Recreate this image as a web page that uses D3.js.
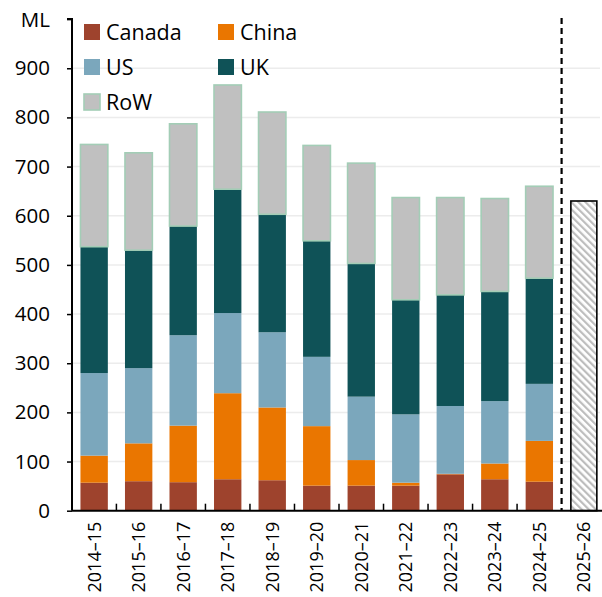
<!DOCTYPE html>
<html><head><meta charset="utf-8">
<script src="https://cdn.jsdelivr.net/npm/d3@7"></script>
<style>body{margin:0;background:#fff}svg{display:block}text{font-family:"Open Sans",sans-serif;fill:#000}</style>
</head><body>
<svg id="c" width="602" height="597"></svg>
<script>
const categories = ["2014–15","2015–16","2016–17","2017–18","2018–19","2019–20","2020–21","2021–22","2022–23","2023–24","2024–25","2025–26"];
const canada = [57,60,58,64,62,51,51,51,74,64,59,null];
const china  = [55,77,115,175,148,121,52,6,1,32,83,null];
const us     = [168,153,184,163,153,141,129,139,138,127,116,null];
const uk     = [257,240,222,252,240,236,271,233,226,223,215,null];
const row    = [208,198,208,212,208,194,204,208,198,189,187,null];
const forecast = [null,null,null,null,null,null,null,null,null,null,null,630];
const yTicks = [0,100,200,300,400,500,600,700,800,900];
const seriesNames = ["Canada","China","US","UK","RoW"];
const colors = {Canada:"#9E432D",China:"#EA7600",US:"#7BA7BC",UK:"#0F5257",RoW:"#C0C0C0"};

const svg = d3.select("#c");
const x0 = 72, x1 = 606, yTop = 19.1, yBot = 510.7;
const x = d3.scaleBand().domain(categories).range([x0,x1]).paddingInner(0.385).paddingOuter(0.19);
const y = d3.scaleLinear().domain([0,1000]).range([yBot,yTop]);

const defs = svg.append("defs");
const pat = defs.append("pattern").attr("id","hatch").attr("patternUnits","userSpaceOnUse")
  .attr("width",5).attr("height",5).attr("patternTransform","rotate(-45)");
pat.append("rect").attr("width",5).attr("height",5).attr("fill","#fff");
pat.append("rect").attr("x",0).attr("width",2.2).attr("height",5).attr("fill","#bdbdbd");

// gridlines
svg.append("g").selectAll("line").data(yTicks.filter(d=>d>0)).join("line")
  .attr("x1",x0).attr("x2",600).attr("y1",d=>y(d)).attr("y2",d=>y(d))
  .attr("stroke","#ececec").attr("stroke-width",1.5);

// stacked data
const table = categories.map((c,i)=>({cat:c,Canada:canada[i]||0,China:china[i]||0,US:us[i]||0,UK:uk[i]||0,RoW:row[i]||0,real:canada[i]!=null}));
const stack = d3.stack().keys(seriesNames)(table.filter(d=>d.real));
svg.append("g").selectAll("g").data(stack).join("g")
  .attr("fill",d=>colors[d.key])
  .selectAll("rect").data(d=>d.map(p=>Object.assign(p,{key:d.key}))).join("rect")
  .attr("x",d=>x(d.data.cat)).attr("width",x.bandwidth())
  .attr("y",d=>y(d[1])).attr("height",d=>y(d[0])-y(d[1]))
  .attr("stroke",d=>d.key==="RoW"?"#a3cdb6":"none").attr("stroke-width",1.6);

// forecast bar
svg.append("g").selectAll("rect").data(categories.map((c,i)=>({cat:c,v:forecast[i]})).filter(d=>d.v!=null)).join("rect")
  .attr("x",d=>x(d.cat)+0.7).attr("width",x.bandwidth()-1.4)
  .attr("y",d=>y(d.v)).attr("height",d=>y(0)-y(d.v))
  .attr("fill","url(#hatch)").attr("stroke","#000").attr("stroke-width",1.6);

// dashed separator
const boundary = i => x(categories[i]) - x.step()*x.paddingInner()/2;
svg.append("line").attr("x1",boundary(11)).attr("x2",boundary(11)).attr("y1",18).attr("y2",yBot)
  .attr("stroke","#000").attr("stroke-width",2.2).attr("stroke-dasharray","6,4");

// x axis
svg.append("line").attr("x1",x0).attr("x2",602).attr("y1",yBot).attr("y2",yBot).attr("stroke","#000").attr("stroke-width",2);
svg.append("g").selectAll("line").data(d3.range(1,11)).join("line")
  .attr("x1",boundary).attr("x2",boundary).attr("y1",yBot).attr("y2",yBot-7).attr("stroke","#000").attr("stroke-width",1.5);
svg.append("g").selectAll("text").data(categories).join("text")
  .attr("transform",d=>`translate(${x(d)+x.bandwidth()/2+6.5},${yBot+11}) rotate(-90)`)
  .attr("text-anchor","end").attr("font-size",18).text(d=>d);

// y axis
const yAxis = d3.axisLeft(y).tickValues(yTicks.concat([1000])).tickSize(5).tickFormat(d=>d===1000?"":d);
const ga = svg.append("g").attr("transform",`translate(${x0},0)`).call(yAxis);
ga.select(".domain").attr("stroke","#000").attr("stroke-width",2).attr("d",`M-5,${yTop}H0V${yBot}`);
ga.selectAll(".tick line").attr("stroke","#000").attr("stroke-width",1.5);
ga.selectAll(".tick text").attr("font-size",20.5).attr("font-family","Open Sans").attr("x",-22).attr("fill","#000");
svg.append("text").attr("x",50).attr("y",yTop+8).attr("text-anchor","end").attr("font-size",20.5).text("ML");

// legend
const leg = svg.append("g");
const legPos = [[84,32],[218,32],[84,67],[218,67],[84,102]];
seriesNames.forEach((n,i)=>{
  const g = leg.append("g").attr("transform",`translate(${legPos[i][0]},${legPos[i][1]})`);
  g.append("rect").attr("x",0).attr("y",-8).attr("width",16).attr("height",16).attr("fill",colors[n])
    .attr("stroke",n==="RoW"?"#a3cdb6":"none").attr("stroke-width",1.6);
  g.append("text").attr("x",22).attr("y",7.5).attr("font-size",21.5).text(n);
});
</script>
</body></html>
